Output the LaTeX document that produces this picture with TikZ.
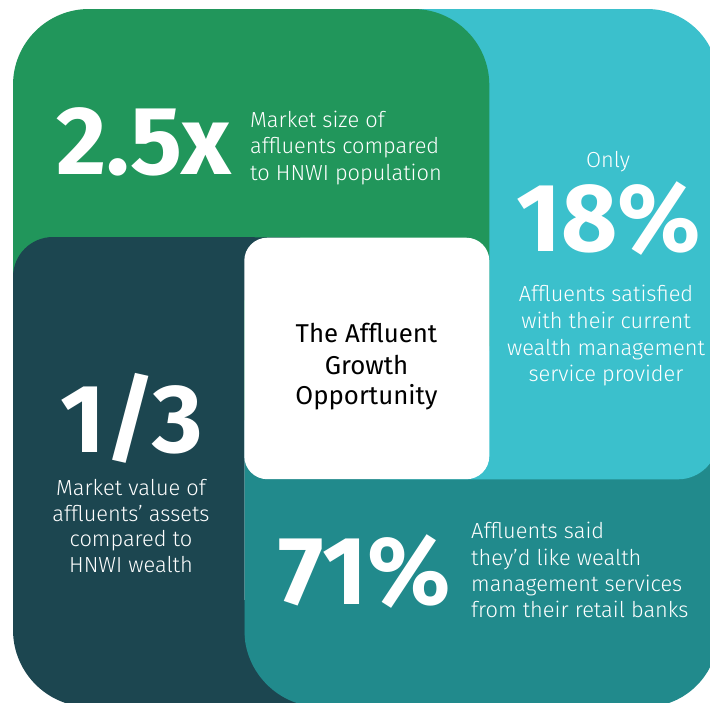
\documentclass[tikz,border=0pt]{standalone}
\usepackage{fontspec}
\setmainfont{Fira Sans}
\IfFontExistsTF{Fira Sans Light}{\newfontfamily\lightf{Fira Sans Light}}{\newfontfamily\lightf{Fira Sans}}
\definecolor{pgreen}{HTML}{21965B}
\definecolor{pcyan}{HTML}{3BC0CC}
\definecolor{pdark}{HTML}{1C4650}
\definecolor{pteal}{HTML}{218A8C}
\begin{document}
\begin{tikzpicture}[x=1pt,y=-1pt,
  bignum/.style={text=white,font=\bfseries\fontsize{97}{97}\selectfont,inner sep=0pt,anchor=base},
  bodyc/.style={text=white,font=\lightf\fontsize{21.8}{25}\selectfont,inner sep=0pt,anchor=base},
  bodyl/.style={text=white,font=\lightf\fontsize{21.8}{25}\selectfont,inner sep=0pt,anchor=base west},
  ctr/.style={text=black,font=\fontsize{25.8}{29}\selectfont,inner sep=0pt,anchor=base}]
\useasboundingbox (0,0) rectangle (710,702);
\clip (0,0) rectangle (710,702);
\fill[white] (0,0) rectangle (710,702);
% panels
\fill[pdark] (200,600) rectangle (330,707);
\fill[pteal] (244.3,380) -- (718,380) -- (718,634) arc[start angle=0,end angle=90,radius=73]
  -- (321.3,707) arc[start angle=90,end angle=180,radius=77] -- cycle;
\fill[pcyan] (380,9) -- (647,9) arc[start angle=270,end angle=360,radius=71]
  -- (718,439.3) arc[start angle=0,end angle=90,radius=40] -- (380,479.3) -- cycle;
\fill[pgreen,rounded corners=76pt] (13,9) rectangle (489.3,420);
\fill[pdark] (13,630) -- (13,277) arc[start angle=180,end angle=270,radius=40]
  -- (300,237.3) -- (300,300) -- (244.3,300) -- (244.3,707) -- (90,707)
  arc[start angle=90,end angle=180,radius=77] -- cycle;
\fill[white,rounded corners=23pt] (244.3,237.7) rectangle (489.3,479.2);
% top-left
\node[bignum] (n25) at (143.5,174) {2.5x};
\node[bodyl] (a1) at (250,127) {Market size of};
\node[bodyl] (a2) at (250,153.5) {affluents compared};
\node[bodyl] (a3) at (250,180) {to HNWI population};
% top-right
\node[bodyc] (only) at (608,167.5) {Only};
\node[bignum] (n18) at (608.5,251) {18\%};
\node[bodyc] (b1) at (606,301) {Affluents satisfied};
\node[bodyc] (b2) at (606,328) {with their current};
\node[bodyc] (b3) at (606,355.4) {wealth management};
\node[bodyc] (b4) at (606,381.7) {service provider};
% centre
\node[ctr] (c1) at (366.5,342.8) {The Affluent};
\node[ctr] (c2) at (366.5,374) {Growth};
\node[ctr] (c3) at (366.5,404.3) {Opportunity};
% bottom-left
\node[bignum] (n13) at (131.5,452.8) {1/3};
\node[bodyc] (d1) at (131,495) {Market value of};
\node[bodyc] (d2) at (131,521) {affluents’ assets};
\node[bodyc] (d3) at (131,546.7) {compared to};
\node[bodyc] (d4) at (131,572.7) {HNWI wealth};
% bottom-right
\node[bignum] (n71) at (364.5,604) {71\%};
\node[bodyl] (e1) at (471,538.3) {Affluents said};
\node[bodyl] (e2) at (471,565) {they’d like wealth};
\node[bodyl] (e3) at (471,591.7) {management services};
\node[bodyl] (e4) at (471,617.3) {from their retail banks};
\end{tikzpicture}
\end{document}
